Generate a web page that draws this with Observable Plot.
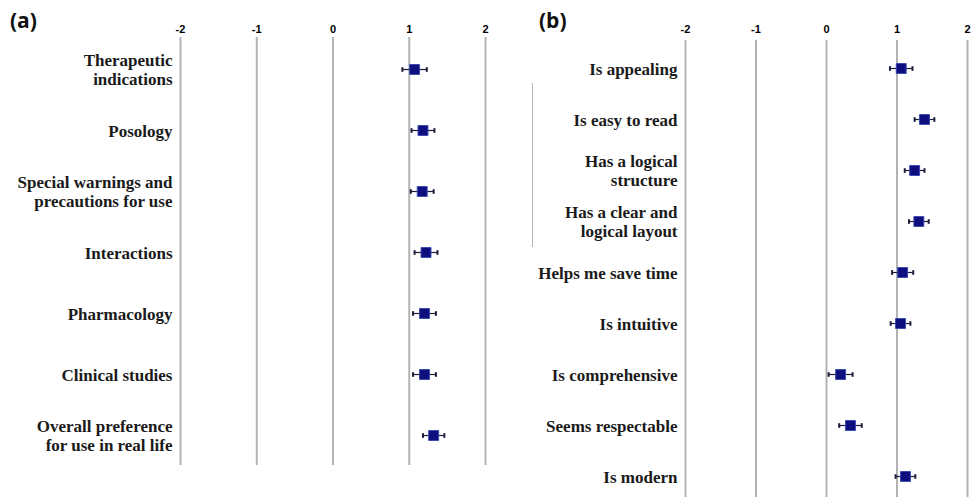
<!DOCTYPE html>
<html>
<head>
<meta charset="utf-8">
<script src="https://cdn.jsdelivr.net/npm/d3@7"></script>
<script src="https://cdn.jsdelivr.net/npm/@observablehq/plot@0.6"></script>
<style>
  html, body { margin: 0; padding: 0; background: #fff; }
  #wrap { position: relative; width: 974px; height: 497px; display: flex; overflow: hidden; }
  .panel-label { position: absolute; top: 6px; font-family: "Open Sans", "Liberation Sans", sans-serif; font-weight: bold; font-size: 21px; color: #111; }
  #artifact { position: absolute; left: 532px; top: 83px; width: 1px; height: 164px; background: #b5b5b5; }
</style>
</head>
<body>
<div id="wrap">
  <div id="pa"></div>
  <div id="pb"></div>
  <div class="panel-label" style="left:10px">(a)</div>
  <div class="panel-label" style="left:539px">(b)</div>
  <div id="artifact"></div>
</div>
<script>
// ---- data ----
const tickValues = [-2, -1, 0, 1, 2];
const tickLabels = ["-2", "-1", "0", "1", "2"];

const categoriesA = [
  "Therapeutic\nindications",
  "Posology",
  "Special warnings and\nprecautions for use",
  "Interactions",
  "Pharmacology",
  "Clinical studies",
  "Overall preference\nfor use in real life"
];
const meansA = [1.07, 1.18, 1.17, 1.22, 1.20, 1.20, 1.32];
const errorsA = [0.16, 0.15, 0.15, 0.15, 0.15, 0.15, 0.14];

const categoriesB = [
  "Is appealing",
  "Is easy to read",
  "Has a logical\nstructure",
  "Has a clear and\nlogical layout",
  "Helps me save time",
  "Is intuitive",
  "Is comprehensive",
  "Seems respectable",
  "Is modern"
];
const meansB = [1.06, 1.39, 1.25, 1.31, 1.08, 1.05, 0.20, 0.34, 1.12];
const errorsB = [0.16, 0.14, 0.14, 0.14, 0.15, 0.14, 0.17, 0.16, 0.14];

// ---- drawing ----
const capSymbol = {
  draw(context, size) {
    const h = Math.sqrt(size) / 2;
    context.moveTo(0, -h);
    context.lineTo(0, h);
  }
};

function panel(categories, means, errors, opts) {
  const rows = categories.map((c, i) => ({
    cat: c, mean: means[i], lo: means[i] - errors[i], hi: means[i] + errors[i]
  }));
  const ticks = tickValues.map((v, i) => ({v, label: tickLabels[i]}));
  return Plot.plot({
    width: opts.width,
    height: 497,
    marginLeft: opts.marginLeft,
    marginRight: opts.marginRight,
    marginTop: opts.marginTop,
    marginBottom: opts.marginBottom,
    style: {fontFamily: "'Liberation Sans', Arial, sans-serif", fontSize: "10px", fontWeight: "bold", color: "#111", background: "#fff"},
    x: {domain: [-2, 2], axis: null},
    y: {type: "point", domain: categories, range: opts.yRange, padding: 0, axis: null},
    marks: [
      Plot.ruleX(ticks, {x: "v", stroke: "#b3b3b3", strokeWidth: 2}),
      Plot.text(ticks, {x: "v", text: "label", frameAnchor: "top", dy: opts.tickDy, fill: "#000",
        fontSize: 11, fontWeight: 900, fontFamily: "'Liberation Sans', Arial, sans-serif"}),
      Plot.text(rows, {y: "cat", text: "cat", frameAnchor: "left", textAnchor: "end", dx: -8,
        lineHeight: 1.13, fontSize: 17, fontWeight: "bold", fill: "#1a1a1a",
        fontFamily: "'Liberation Serif', 'Times New Roman', serif"}),
      Plot.ruleY(rows, {y: "cat", x1: "lo", x2: "hi", stroke: "#1b1b3a", strokeWidth: 1.2}),
      Plot.dot(rows, {y: "cat", x: "lo", symbol: capSymbol, r: 2.6, stroke: "#1b1b3a", strokeWidth: 2}),
      Plot.dot(rows, {y: "cat", x: "hi", symbol: capSymbol, r: 2.6, stroke: "#1b1b3a", strokeWidth: 2}),
      Plot.dot(rows, {y: "cat", x: "mean", symbol: "square", r: 5.6, fill: "#0e0e7e", stroke: "#3a4ab0", strokeWidth: 1})
    ]
  });
}

document.getElementById("pa").appendChild(panel(categoriesA, meansA, errorsA, {
  width: 500, marginLeft: 180, marginRight: 15, marginTop: 37, marginBottom: 32,
  yRange: [66, 437], tickDy: -12
}));
document.getElementById("pb").appendChild(panel(categoriesB, meansB, errorsB, {
  width: 474, marginLeft: 185, marginRight: 7, marginTop: 40, marginBottom: 0,
  yRange: [66, 477], tickDy: -15
}));
</script>
</body>
</html>
